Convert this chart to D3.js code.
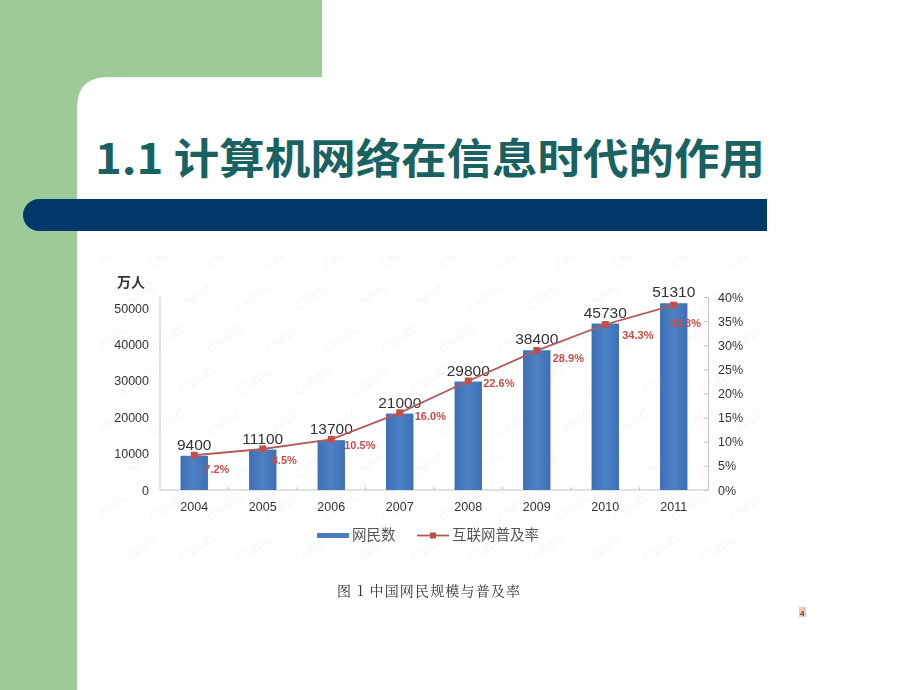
<!DOCTYPE html>
<html><head><meta charset="utf-8">
<script src="https://cdn.jsdelivr.net/npm/d3@7"></script>
<style>body{margin:0;background:#fff}svg{display:block}</style>
</head><body>
<script>
const years = ["2004","2005","2006","2007","2008","2009","2010","2011"];
const users = [9400,11100,13700,21000,29800,38400,45730,51310];
const rate = [7.2,8.5,10.5,16.0,22.6,28.9,34.3,38.3];
const leftTicks = [0,10000,20000,30000,40000,50000];
const rightTicks = [0,5,10,15,20,25,30,35,40];

const W=920,H=690;
const svg=d3.select("body").append("svg").attr("width",W).attr("height",H);
// slide decoration
svg.append("rect").attr("x",0).attr("y",0).attr("width",322).attr("height",110).attr("fill","#9ccb98");
svg.append("rect").attr("x",0).attr("y",0).attr("width",77).attr("height",H).attr("fill","#9ccb98");
svg.append("path").attr("fill","#fff")
  .attr("d",`M77,${H} L77,108 Q77,77 108,77 L${W},77 L${W},${H} Z`);
svg.append("path").attr("fill","#03386a")
  .attr("d","M39,199 L767,199 L767,231 L39,231 A16,16 0 0 1 39,199 Z");
svg.append("text").attr("x",95).attr("y",174)
  .attr("font-family","'Noto Sans CJK SC', 'Liberation Sans', sans-serif").attr("font-weight","bold")
  .attr("font-size",42).attr("fill","#1a6262").attr("textLength",670).attr("lengthAdjust","spacingAndGlyphs")
  .text("1.1 计算机网络在信息时代的作用");

// faint watermark, clipped to the chart picture area
const defs=svg.append("defs");
defs.append("clipPath").attr("id","wmclip").append("rect").attr("x",100).attr("y",255).attr("width",660).attr("height",305);
const wm=svg.append("g").attr("clip-path","url(#wmclip)").attr("fill","#000").attr("opacity",0.03)
  .attr("font-family","'Liberation Sans', sans-serif").attr("font-weight","bold").attr("font-size",13);
d3.range(0,8).forEach(r=>d3.range(0,13).forEach(c=>{
  wm.append("text").attr("transform",`translate(${95+c*58+(r%2)*29},${270+r*42}) rotate(-35)`).text("CNNIC");
}));

// chart
const x0=160,x1=708,yb=490;
const x=d3.scaleBand().domain(years).range([x0,x1]).paddingInner(0.6).paddingOuter(0.3);
const yL=d3.scaleLinear().domain([0,50000]).range([yb,308]);
const yR=d3.scaleLinear().domain([0,40]).range([yb,297]);
const font="'Liberation Sans', Arial, sans-serif";

const axL=d3.axisLeft(yL).tickValues(leftTicks).tickSize(0).tickPadding(11).tickFormat(d3.format("d"));
const gL=svg.append("g").attr("transform",`translate(${x0},0)`).call(axL);
gL.select(".domain").attr("d",`M0,${yb}V297`);
const axR=d3.axisRight(yR).tickValues(rightTicks).tickSize(0).tickPadding(10).tickFormat(d=>d+"%");
const gR=svg.append("g").attr("transform",`translate(${x1},0)`).call(axR);
gR.selectAll(".tick").append("line").attr("x1",-4).attr("x2",0);
[gL,gR].forEach(g=>{
  g.selectAll(".domain,line").attr("stroke","#c4c4c4");
  g.selectAll("text").attr("font-family",font).attr("font-size",12.5).attr("fill","#333");
});
const axB=d3.axisBottom(x).tickSize(0).tickPadding(12);
const gB=svg.append("g").attr("transform",`translate(0,${yb})`).call(axB);
gB.select(".domain").attr("stroke","#c4c4c4").attr("d",`M${x0},0H${x1}`);
gB.selectAll("text").attr("font-family",font).attr("font-size",12.5).attr("fill","#333");
gB.selectAll(".sep").data(years.slice(1)).enter().append("line").attr("class","sep")
  .attr("x1",d=>x(d)-x.step()*0.3).attr("x2",d=>x(d)-x.step()*0.3)
  .attr("y1",0).attr("y2",-3).attr("stroke","#c4c4c4");

svg.append("text").attr("x",117).attr("y",287).attr("font-family","'Noto Sans CJK SC', sans-serif")
  .attr("font-weight","bold").attr("font-size",14).attr("fill","#333").text("万人");

const grad=defs.append("linearGradient").attr("id","bg").attr("x1",0).attr("x2",1);
grad.append("stop").attr("offset","0").attr("stop-color","#3d6fb3");
grad.append("stop").attr("offset","0.5").attr("stop-color","#4d82c6");
grad.append("stop").attr("offset","1").attr("stop-color","#3d6fb3");

svg.selectAll(".bar").data(years).enter().append("rect")
  .attr("x",d=>x(d)).attr("width",x.bandwidth())
  .attr("y",(d,i)=>yL(users[i])).attr("height",(d,i)=>yb-yL(users[i]))
  .attr("fill","url(#bg)");
svg.selectAll(".bl").data(years).enter().append("text")
  .attr("x",d=>x(d)+x.bandwidth()/2).attr("y",(d,i)=>yL(users[i])-6)
  .attr("text-anchor","middle").attr("font-family",font).attr("font-size",15.5).attr("fill","#333")
  .text((d,i)=>users[i]);

const line=d3.line().x((d,i)=>x(years[i])+x.bandwidth()/2).y(d=>yR(d));
svg.append("path").datum(rate).attr("d",line).attr("fill","none").attr("stroke","#b45a5a").attr("stroke-width",1.8);
svg.selectAll(".mk").data(rate).enter().append("rect")
  .attr("x",(d,i)=>x(years[i])+x.bandwidth()/2-3.5).attr("y",d=>yR(d)-3.5)
  .attr("width",7).attr("height",7).attr("fill","#c0504d");
// label offsets relative to marker (layout only)
const labelDx=[10,9,13,15,15,16,17,-4];
const labelDy=[14,11,6,3,2,7,10,18];
svg.selectAll(".rl").data(rate).enter().append("text")
  .attr("x",(d,i)=>x(years[i])+x.bandwidth()/2+labelDx[i]).attr("y",(d,i)=>yR(d)+labelDy[i]+4)
  .attr("font-family",font).attr("font-weight","bold").attr("font-size",11).attr("fill","#c0504d")
  .text(d=>d.toFixed(1)+"%");

// legend
const lg=svg.append("g");
lg.append("rect").attr("x",317).attr("y",533).attr("width",32).attr("height",5).attr("fill","#4a7cc0");
lg.append("text").attr("x",352).attr("y",540).attr("font-family","'Noto Sans CJK SC', sans-serif")
  .attr("font-size",14.5).attr("fill","#555").text("网民数");
lg.append("line").attr("x1",417).attr("x2",449).attr("y1",535.5).attr("y2",535.5).attr("stroke","#b45a5a").attr("stroke-width",1.8);
lg.append("rect").attr("x",430).attr("y",532.5).attr("width",6).attr("height",6).attr("fill","#c0504d");
lg.append("text").attr("x",452).attr("y",540).attr("font-family","'Noto Sans CJK SC', sans-serif")
  .attr("font-size",14.5).attr("fill","#555").text("互联网普及率");

svg.append("text").attr("x",337).attr("y",596).attr("font-family","'Noto Serif CJK SC','Noto Sans CJK SC', serif")
  .attr("font-size",14).attr("fill","#333").attr("textLength",183).attr("lengthAdjust","spacing")
  .text("图  1 中国网民规模与普及率");
svg.append("rect").attr("x",799).attr("y",607).attr("width",7).attr("height",10).attr("fill","#e9c9b5");
svg.append("text").attr("x",800).attr("y",616).attr("font-family",font).attr("font-size",8).attr("font-weight","bold").attr("fill","#8b3a1a").text("4");
</script>
</body></html>
